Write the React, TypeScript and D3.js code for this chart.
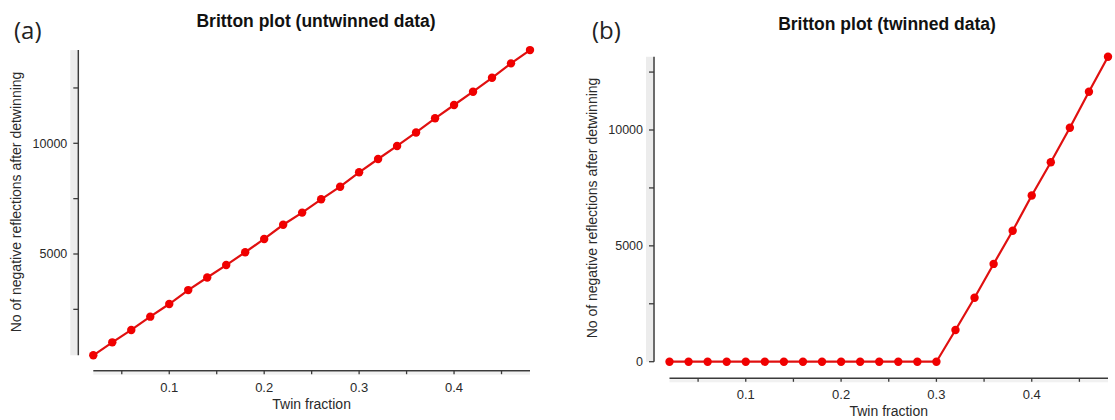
import React from "react";
import * as d3 from "d3";

const twinFraction: number[] = [
  0.02, 0.04, 0.06, 0.08, 0.1, 0.12, 0.14, 0.16, 0.18, 0.2, 0.22, 0.24,
  0.26, 0.28, 0.3, 0.32, 0.34, 0.36, 0.38, 0.4, 0.42, 0.44, 0.46, 0.48,
];
const untwinnedNeg: number[] = [
  425, 1010, 1570, 2170, 2740, 3370, 3940, 4500, 5080, 5680, 6320, 6870,
  7470, 8040, 8690, 9290, 9880, 10490, 11130, 11730, 12330, 12960, 13610, 14210,
];
const twinnedNeg: number[] = [
  0, 0, 0, 0, 0, 0, 0, 0, 0, 0, 0, 0, 0, 0, 0,
  1370, 2760, 4220, 5650, 7170, 8610, 10100, 11650, 13160,
];
const titles: string[] = ["Britton plot (untwinned data)", "Britton plot (twinned data)"];
const panelTags: string[] = ["(a)", "(b)"];
const xTitle = "Twin fraction";
const yTitle = "No of negative reflections after detwinning";
const yTickStep = 2500;
const yLabelStep = 5000;
const xTickStep = 0.05;
const xLabelStep = 0.1;

type Layout = {
  xRange: [number, number];
  y0: number;
  y10k: number;
  yAxisX: number;
  xAxisY: number;
  titleX: number;
  titleY: number;
  tagX: number;
  tagY: number;
  yTitleX: number;
  yTitleY: number;
};

const layouts: Layout[] = [
  { xRange: [93.3, 530], y0: 364.7, y10k: 143.3, yAxisX: 78.3, xAxisY: 370.7,
    titleX: 316, titleY: 27, tagX: 14, tagY: 39, yTitleX: 21, yTitleY: 202 },
  { xRange: [669.5, 1108], y0: 361.7, y10k: 130, yAxisX: 654, xAxisY: 378.3,
    titleX: 887, titleY: 30, tagX: 592, tagY: 39, yTitleX: 597, yTitleY: 208 },
];

const LINE = "#e01010";
const DOT = "#f00000";
const AXIS = "#3a3a3a";
const TXT = "#2a2a2a";
const FONT = "'Liberation Sans', Arial, sans-serif";

function Panel({ values, idx }: { values: number[]; idx: number }) {
  const L = layouts[idx];
  const xExt = d3.extent(twinFraction) as [number, number];
  const yExt = d3.extent(values) as [number, number];
  const x = d3.scaleLinear().domain(xExt).range(L.xRange);
  const y = d3.scaleLinear().domain([0, 10000]).range([L.y0, L.y10k]);
  const pts = twinFraction.map((f, i) => [f, values[i]] as [number, number]);
  const line = d3.line<[number, number]>().x((d) => x(d[0])).y((d) => y(d[1]));

  const yTicks = d3.range(0, 20000, yTickStep).filter((v) => v >= yExt[0] - 1e-6 && v <= yExt[1] + 1e-6);
  const xTicks = d3.range(0, 0.5001, xTickStep).map((v) => +v.toFixed(2)).filter((v) => v >= xExt[0] - 1e-9 && v <= xExt[1] + 1e-9);

  const yTop = y(yExt[1]);
  const yBot = y(yExt[0]);
  const xL = x(xExt[0]);
  const xR = x(xExt[1]);

  return (
    <g>
      <text x={L.tagX} y={L.tagY} fontFamily="'Open Sans', 'Noto Sans', sans-serif" fontSize={24} fill="#222">
        {panelTags[idx]}
      </text>
      <text x={L.titleX} y={L.titleY} textAnchor="middle" fontFamily={FONT} fontWeight="bold" fontSize={17.5} fill="#111">
        {titles[idx]}
      </text>
      {/* shaded band beside y axis */}
      <rect x={L.yAxisX - 8} y={yTop} width={7} height={yBot - yTop} fill="#ececec" />
      <rect x={xL} y={L.xAxisY + 1} width={xR - xL} height={3} fill="#f1f1f1" />
      {/* y axis */}
      <line x1={L.yAxisX} x2={L.yAxisX} y1={yTop} y2={yBot} stroke={AXIS} strokeWidth={1.5} />
      {yTicks.map((v) => (
        <g key={v}>
          <line x1={L.yAxisX - 5} x2={L.yAxisX} y1={y(v)} y2={y(v)} stroke={AXIS} strokeWidth={1.3} />
          {v % yLabelStep === 0 && (
            <text x={L.yAxisX - 11} y={y(v)} dy="0.35em" textAnchor="end" fontFamily={FONT} fontSize={12.5} fill={TXT}>
              {v}
            </text>
          )}
        </g>
      ))}
      {/* x axis */}
      <line x1={xL} x2={xR} y1={L.xAxisY} y2={L.xAxisY} stroke={AXIS} strokeWidth={1.5} />
      {xTicks.map((v) => (
        <g key={v}>
          <line x1={x(v)} x2={x(v)} y1={L.xAxisY} y2={L.xAxisY + 3.5} stroke={AXIS} strokeWidth={1.3} />
          {Math.abs(v / xLabelStep - Math.round(v / xLabelStep)) < 1e-6 && (
            <text x={x(v)} y={L.xAxisY + 21} textAnchor="middle" fontFamily={FONT} fontSize={13} fill={TXT}>
              {d3.format(".1f")(v)}
            </text>
          )}
        </g>
      ))}
      <text x={(xL + xR) / 2} y={L.xAxisY + 38} textAnchor="middle" fontFamily={FONT} fontSize={14} fill={TXT}>
        {xTitle}
      </text>
      <text
        transform={`translate(${L.yTitleX},${L.yTitleY}) rotate(-90)`}
        textAnchor="middle"
        fontFamily={FONT}
        fontSize={14}
        fill={TXT}
      >
        {yTitle}
      </text>
      <path d={line(pts) || ""} fill="none" stroke={LINE} strokeWidth={2.2} />
      {pts.map((p, i) => (
        <circle key={i} cx={x(p[0])} cy={y(p[1])} r={4.2} fill={DOT} />
      ))}
    </g>
  );
}

export default function App() {
  return (
    <svg
      width={1115}
      height={420}
      style={{ position: "absolute", left: 0, top: 0, background: "#fff" }}
    >
      <rect x={0} y={0} width={1115} height={420} fill="#fff" />
      <Panel values={untwinnedNeg} idx={0} />
      <Panel values={twinnedNeg} idx={1} />
    </svg>
  );
}
